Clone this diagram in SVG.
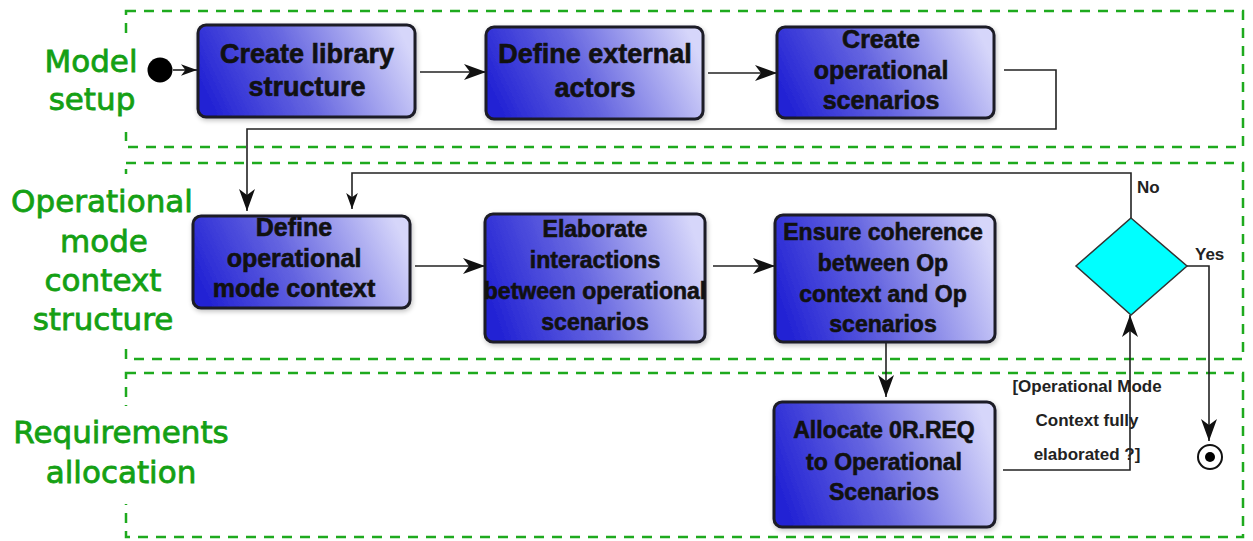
<svg xmlns="http://www.w3.org/2000/svg" width="1253" height="541" viewBox="0 0 1253 541">
<style>
.lane{fill:none;stroke:#1eaa1e;stroke-width:2.5;stroke-dasharray:10 8}
.lanelbl{font-family:"DejaVu Sans",sans-serif;font-size:31px;fill:#14a014;stroke:#14a014;stroke-width:0.8;text-anchor:middle}
.node rect{fill:url(#g);stroke:#1c1c28;stroke-width:3;filter:url(#sh)}
.nt{font-family:"Liberation Sans",Arial,sans-serif;font-weight:bold;fill:#111;text-anchor:middle;stroke:#111;stroke-width:0.6}
.conn{fill:none;stroke:#222;stroke-width:1.6}
.lbl{font-family:"Liberation Sans",Arial,sans-serif;font-weight:bold;font-size:17px;fill:#222}
</style>
<defs>
<linearGradient id="g" x1="0" y1="0.6" x2="1" y2="0.4">
<stop offset="0" stop-color="#2222d4"/>
<stop offset="0.45" stop-color="#6666e0"/>
<stop offset="1" stop-color="#d6d6fa"/>
</linearGradient>
<filter id="sh" x="-10%" y="-10%" width="125%" height="130%">
<feGaussianBlur in="SourceAlpha" stdDeviation="2.5"/>
<feOffset dx="1" dy="2" result="b"/>
<feComponentTransfer><feFuncA type="linear" slope="0.25"/></feComponentTransfer>
<feMerge><feMergeNode/><feMergeNode in="SourceGraphic"/></feMerge>
</filter>
<marker id="ah" viewBox="0 0 22 16" refX="22" refY="8" markerWidth="22" markerHeight="16" markerUnits="userSpaceOnUse" orient="auto">
<path d="M0,0 L22,8 L0,16 L6,8 z" fill="#111"/>
</marker>
<marker id="ahs" viewBox="0 0 22 16" refX="22" refY="8" markerWidth="16" markerHeight="12" markerUnits="userSpaceOnUse" orient="auto">
<path d="M0,0 L22,8 L0,16 L6,8 z" fill="#111"/>
</marker>
</defs>
<rect width="1253" height="541" fill="#fff"/>

<g id="lanes">
<rect class="lane" x="126" y="11" width="1117" height="136"/>
<rect class="lane" x="126" y="163" width="1117" height="196"/>
<rect class="lane" x="126" y="373" width="1117" height="164"/>
<rect x="0" y="36" width="140" height="96" fill="#fff"/>
<rect x="0" y="174" width="140" height="173" fill="#fff"/>
<rect x="0" y="406" width="140" height="98" fill="#fff"/>
<text class="lanelbl" x="91" y="72">Model</text>
<text class="lanelbl" x="92" y="110">setup</text>
<text class="lanelbl" x="102" y="212">Operational</text>
<text class="lanelbl" x="104" y="252">mode</text>
<text class="lanelbl" x="103" y="291">context</text>
<text class="lanelbl" x="103" y="330">structure</text>
<text class="lanelbl" x="121" y="443">Requirements</text>
<text class="lanelbl" x="121" y="483">allocation</text>
</g>

<g id="connectors">
<text class="lbl" x="1137" y="193">No</text>
<text class="lbl" x="1195" y="260">Yes</text>
<text class="lbl" x="1087" y="392" text-anchor="middle">[Operational Mode</text>
<text class="lbl" x="1087" y="426" text-anchor="middle">Context fully</text>
<text class="lbl" x="1087" y="460" text-anchor="middle">elaborated ?]</text>
<path class="conn" d="M173,70 L197,70" marker-end="url(#ahs)"/>
<path class="conn" d="M420,72 L486,72" marker-end="url(#ah)"/>
<path class="conn" d="M708,73 L777,73" marker-end="url(#ah)"/>
<path class="conn" d="M1004,70 L1056,70 L1056,129 L247,129 L247,211" marker-end="url(#ah)"/>
<path class="conn" d="M415,266 L485,266" marker-end="url(#ah)"/>
<path class="conn" d="M713,266 L775,266" marker-end="url(#ah)"/>
<path class="conn" d="M886,342 L886,397" marker-end="url(#ah)"/>
<path class="conn" d="M1003,470 L1130,470 L1130,315" marker-end="url(#ah)"/>
<path class="conn" d="M1131,218 L1131,173 L352,173 L352,209" marker-end="url(#ahs)"/>
<path class="conn" d="M1187,266 L1209,266 L1209,441" marker-end="url(#ah)"/>
</g>

<g id="start"><circle cx="160" cy="70" r="12.5" fill="#000"/></g>

<g id="n1" class="node">
<rect x="198" y="25" width="217" height="92" rx="8"/>
<text class="nt" font-size="27" x="307" y="63">Create library</text>
<text class="nt" font-size="27" x="307" y="96">structure</text>
</g>
<g id="n2" class="node">
<rect x="486" y="27" width="217" height="92" rx="8"/>
<text class="nt" font-size="27" x="595" y="63">Define external</text>
<text class="nt" font-size="27" x="595" y="97">actors</text>
</g>
<g id="n3" class="node">
<rect x="777" y="27" width="217" height="91" rx="8"/>
<text class="nt" font-size="25" x="881" y="48">Create</text>
<text class="nt" font-size="25" x="881" y="79">operational</text>
<text class="nt" font-size="25" x="881" y="109">scenarios</text>
</g>
<g id="n4" class="node">
<rect x="193" y="216" width="217" height="92" rx="8"/>
<text class="nt" font-size="25" x="294" y="236">Define</text>
<text class="nt" font-size="25" x="294" y="267">operational</text>
<text class="nt" font-size="25" x="294" y="297">mode context</text>
</g>
<g id="n5" class="node">
<rect x="485" y="214" width="220" height="128" rx="8"/>
<text class="nt" font-size="23" x="595" y="237">Elaborate</text>
<text class="nt" font-size="23" x="595" y="268">interactions</text>
<text class="nt" font-size="23" x="595" y="299">between operational</text>
<text class="nt" font-size="23" x="595" y="330">scenarios</text>
</g>
<g id="n6" class="node">
<rect x="775" y="215" width="220" height="127" rx="8"/>
<text class="nt" font-size="23" x="883" y="240">Ensure coherence</text>
<text class="nt" font-size="23" x="883" y="271">between Op</text>
<text class="nt" font-size="23" x="883" y="302">context and Op</text>
<text class="nt" font-size="23" x="883" y="332">scenarios</text>
</g>
<g id="n7" class="node">
<rect x="774" y="402" width="221" height="125" rx="8"/>
<text class="nt" font-size="23" x="884" y="438">Allocate 0R.REQ</text>
<text class="nt" font-size="23" x="884" y="470">to Operational</text>
<text class="nt" font-size="23" x="884" y="500">Scenarios</text>
</g>
<g id="decision">
<polygon points="1131,218 1187,266 1131,315 1076,266" fill="#00ffff" stroke="#333" stroke-width="1.5"/>
</g>
<g id="end">
<circle cx="1210" cy="457" r="12" fill="#fff" stroke="#111" stroke-width="2"/>
<circle cx="1210" cy="457" r="5" fill="#000"/>
</g>
</svg>
